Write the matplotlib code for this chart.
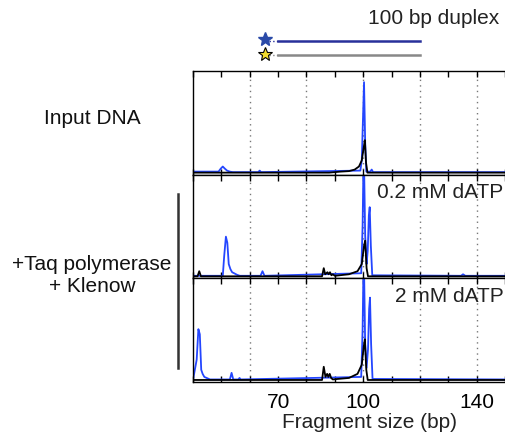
import numpy as np
import matplotlib
matplotlib.use("Agg")
import matplotlib.pyplot as plt

plt.rcParams['font.family'] = ['Liberation Sans', 'DejaVu Sans']

# fragment size axis
x_range = (40, 150)
tick_pos = list(range(40, 151, 10))
tick_labels = {70: "70", 100: "100", 140: "140"}
grid_pos = [60, 80, 100, 120, 140]

# traces per panel (fragment size in bp, relative signal)
input_blue_x = [40, 49, 49.8, 50.5, 51.2, 52, 53, 54, 63, 63.5, 64, 99, 99.5, 99.9, 100.3, 100.7, 101.1, 102.5, 103, 103.5, 150]
input_blue_y = [0.01, 0.01, 0.04, 0.06, 0.04, 0.02, 0.01, 0.005, 0.005, 0.02, 0.005, 0.02, 0.12, 0.5, 0.89, 0.3, 0.01, 0.01, 0.03, 0.005, 0.005]
input_black_x = [40, 88, 92, 95, 97, 98.5, 99.5, 100.2, 100.6, 101.0, 101.5, 150]
input_black_y = [0, 0, 0.01, 0.015, 0.03, 0.06, 0.12, 0.25, 0.32, 0.1, 0.0, 0]

low_blue_x = [40, 50.5, 51.0, 51.6, 52.1, 52.6, 53.2, 53.8, 54.5, 55.5, 56.5, 63.8, 64.5, 65.2, 99.3, 99.8, 100.2, 100.7, 101.2, 101.6, 102.0, 102.3, 102.7, 103.2, 134.5, 135.2, 136, 150]
low_blue_y = [0.005, 0.005, 0.2, 0.39, 0.33, 0.12, 0.07, 0.04, 0.03, 0.015, 0.005, 0.005, 0.05, 0.005, 0.03, 0.5, 1.3, 0.4, 0.12, 0.25, 0.6, 0.68, 0.3, 0.01, 0.005, 0.02, 0.005, 0.005]
low_black_x = [40, 41.6, 42.2, 42.8, 85.5, 86.1, 86.6, 87.4, 87.8, 88.3, 88.8, 89.3, 90, 95, 98, 99.5, 100.3, 100.7, 101.2, 101.7, 150]
low_black_y = [0, 0, 0.05, 0, 0, 0.08, 0.02, 0.04, 0.02, 0.04, 0.01, 0.02, 0.005, 0.02, 0.05, 0.12, 0.3, 0.35, 0.08, 0, 0]

high_blue_x = [40, 41.3, 41.9, 42.4, 42.9, 43.4, 44, 44.8, 46, 53, 53.6, 54.2, 56, 56.4, 56.8, 99.3, 99.8, 100.2, 100.7, 101.2, 101.7, 102.1, 102.4, 102.8, 103.3, 150]
high_blue_y = [0, 0.2, 0.5, 0.45, 0.1, 0.06, 0.03, 0.02, 0.005, 0.005, 0.07, 0.005, 0.005, 0.02, 0.005, 0.03, 0.5, 1.3, 0.35, 0.12, 0.3, 0.7, 0.81, 0.35, 0.01, 0.005]
high_black_x = [40, 85.5, 86.1, 86.7, 87.3, 87.7, 88.2, 88.7, 89.3, 91, 95, 98, 99.5, 100.2, 100.6, 101.1, 101.6, 150]
high_black_y = [0, 0, 0.13, 0.03, 0.06, 0.03, 0.06, 0.02, 0.005, 0.01, 0.02, 0.06, 0.15, 0.33, 0.4, 0.1, 0, 0]

panel_labels = ["", "0.2 mM dATP", "2 mM dATP"]
panels = [
    (input_blue_x, input_blue_y, input_black_x, input_black_y),
    (low_blue_x, low_blue_y, low_black_x, low_black_y),
    (high_blue_x, high_blue_y, high_black_x, high_black_y),
]

# duplex schematic: start/end of strands (bp)
duplex_start, duplex_end, star_pos = 70, 120, 65.3

blue = "#2446ff"
fs = 15

fig = plt.figure(figsize=(5.05, 4.34), dpi=100)

left, right = 193 / 505, 1.0
top_px, bot_px = 71, 382
ph = (bot_px - top_px) / 3

axes = []
for i, (bx, by, kx, ky) in enumerate(panels):
    y0 = 1 - (top_px + ph * (i + 1)) / 434
    ax = fig.add_axes([left, y0, right - left, ph / 434])
    for g in grid_pos:
        ax.axvline(g, color="#777777", ls=(0, (1, 3)), lw=1, zorder=0)
    ax.plot(bx, by, color=blue, lw=1.3, zorder=2)
    ax.plot(kx, ky, color="black", lw=1.3, zorder=3)
    ax.set_xlim(*x_range)
    ax.set_ylim(-0.02, 1.0)
    ax.set_yticks([])
    ax.set_xticks(tick_pos)
    ax.tick_params(axis="x", direction="in", top=True, bottom=True, length=4, width=1,
                   labelsize=fs, pad=8)
    if i == 2:
        ax.set_xticklabels([tick_labels.get(t, "") for t in tick_pos])
    else:
        ax.set_xticklabels([])
    for s in ax.spines.values():
        s.set_linewidth(1)
    ax.spines["right"].set_visible(False)
    if panel_labels[i]:
        ax.text(0.995, 1 - 18 / ph, panel_labels[i], transform=ax.transAxes, ha="right", va="center",
                fontsize=fs, color="#222222")
    axes.append(ax)

fig.text(370 / 505, 1 - 428 / 434, "Fragment size (bp)", ha="center", va="baseline",
         fontsize=fs, color="#222222")

# schematic of the labelled duplex
sch = fig.add_axes([left, 1 - 62 / 434, right - left, 32 / 434])
sch.set_xlim(*x_range)
sch.set_ylim(0, 1)
sch.axis("off")
sch.plot([duplex_start, duplex_end], [0.66, 0.66], color="#28309a", lw=1.8)
sch.plot([duplex_start, duplex_end], [0.22, 0.22], color="#888888", lw=1.8)
sch.plot([star_pos + 1.5, duplex_start], [0.66, 0.66], color="#28309a", lw=1, ls=":")
sch.plot([star_pos + 1.5, duplex_start], [0.22, 0.22], color="#888888", lw=1, ls=":")
sch.plot([star_pos], [0.72], marker="*", ms=10, color="#2a4aa8", mec="#2a4aa8", clip_on=False)
sch.plot([star_pos], [0.24], marker="*", ms=10, color="#f2dc2e", mec="black", mew=0.8, clip_on=False)

fig.text(499 / 505, 1 - 18 / 434, "100 bp duplex", ha="right", va="center", fontsize=fs, color="#222222")
fig.text(92 / 505, 1 - 118 / 434, "Input DNA", ha="center", va="center", fontsize=fs, color="#111111")
fig.text(92 / 505, 1 - 275 / 434, "+Taq polymerase\n+ Klenow", ha="center", va="center",
         fontsize=fs, color="#111111", linespacing=1.2)
fig.add_artist(plt.Line2D([178 / 505, 178 / 505], [1 - 194 / 434, 1 - 368 / 434],
                          color="#333333", lw=1.8, transform=fig.transFigure))

fig.savefig("out.png", dpi=100)
